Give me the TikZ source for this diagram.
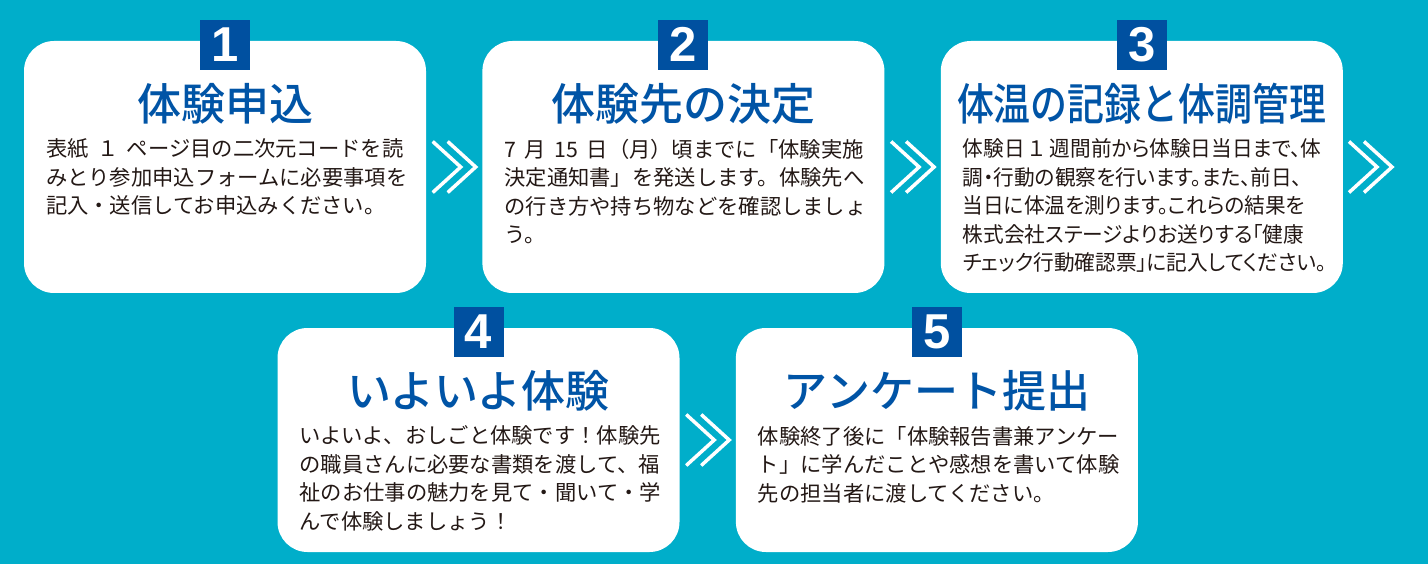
\documentclass[tikz,border=0pt]{standalone}
\usepackage{fontspec}
\setmainfont{Noto Sans CJK JP}
\newfontfamily\jpnarrow[FakeStretch=0.97,RawFeature=+palt]{Noto Sans CJK JP}
\newfontfamily\jptitle{Noto Sans CJK JP Medium}
\newfontfamily\jptitlenarrow[FakeStretch=0.84]{Noto Sans CJK JP Medium}
\newfontfamily\numfont{Liberation Sans}
\usepackage{tikz}
\usetikzlibrary{positioning,calc}
\definecolor{bgteal}{RGB}{0,174,202}
\definecolor{stepblue}{RGB}{0,80,160}
\definecolor{titleblue}{RGB}{0,84,166}
\definecolor{bodyink}{RGB}{35,24,21}

\begin{document}
\begin{tikzpicture}[x=1pt, y=-1pt, node distance=56pt,
  stepbox/.style={fill=white,rounded corners=30pt,minimum width=402pt,minimum height=252pt,inner sep=0pt},
  lowbox/.style={stepbox,minimum height=224pt},
  badge/.style={fill=stepblue,text=white,minimum size=50pt,inner sep=0pt,font=\numfont\bfseries\fontsize{49}{49}\selectfont},
  steptitle/.style={text=titleblue,inner sep=0pt,font=\jptitle\fontsize{44}{44}\selectfont},
  stepbody/.style={text=bodyink,inner sep=0pt,anchor=north west,align=left,font=\fontsize{21.3}{28.5}\selectfont},
  chevline/.style={draw=white,line width=3.5pt},
  pics/chev/.style={code={
    \draw[chevline] (-21.5,-25.5) -- (6.5,0) -- (-21.5,25.5);
    \draw[chevline] (-6.5,-25.5) -- (21.5,0) -- (-6.5,25.5);}}]
\fill[bgteal] (0,0) rectangle (1428,564);
% boxes
\node[stepbox] (s1) at (225,167) {};
\node[stepbox,right=of s1] (s2) {};
\node[stepbox,right=of s2] (s3) {};
\node[lowbox] (s4) at (478.5,440) {};
\node[lowbox,right=of s4] (s5) {};
% number badges
\node[badge] (b1) at ($(s1.north)+(0,4)$) {1};
\node[badge] (b2) at ($(s2.north)+(0,4)$) {2};
\node[badge] (b3) at ($(s3.north)+(0,4)$) {3};
\node[badge] (b4) at ($(s4.north)+(0,4)$) {4};
\node[badge] (b5) at ($(s5.north)+(0,4)$) {5};
% titles
\node[steptitle] (t1) at ($(s1.north)+(0,63)$) {体験申込};
\node[steptitle] (t2) at ($(s2.north)+(0,63)$) {体験先の決定};
\node[steptitle,font=\jptitlenarrow\fontsize{44}{44}\selectfont] (t3) at ($(s3.north)+(0,63)$) {体温の記録と体調管理};
\node[steptitle] (t4) at ($(s4.north)+(0,63)$) {いよいよ体験};
\node[steptitle] (t5) at ($(s5.north)+(0,63)$) {アンケート提出};
% texts
\node[stepbody] (d1) at ($(s1.north west)+(22,98)$) {表紙\hspace{0.4em}１\hspace{0.4em}ページ目の二次元コードを読\\みとり参加申込フォームに必要事項を\\記入・送信してお申込みください。};
\node[stepbody] (d2) at ($(s2.north west)+(22,98)$) {7\hspace{0.4em}月\hspace{0.4em}15\hspace{0.4em}日（月）頃までに「体験実施\\決定通知書」を発送します。体験先へ\\の行き方や持ち物などを確認しましょ\\う。};
\node[stepbody,font=\jpnarrow\fontsize{21.3}{28.5}\selectfont] (d3) at ($(s3.north west)+(22,98)$) {体験日 １ 週間前から体験日当日まで、体\\調・行動の観察を行います。また、前日、\\当日に体温を測ります。これらの結果を\\株式会社ステージよりお送りする「健康\\チェック行動確認票」に記入してください。};
\node[stepbody] (d4) at ($(s4.north west)+(22,98)$) {いよいよ、おしごと体験です！体験先\\の職員さんに必要な書類を渡して、福\\祉のお仕事の魅力を見て・聞いて・学\\んで体験しましょう！};
\node[stepbody] (d5) at ($(s5.north west)+(22,98)$) {体験終了後に「体験報告書兼アンケー\\ト」に学んだことや感想を書いて体験\\先の担当者に渡してください。};
% chevrons
\coordinate (c12) at ($(s1.east)!0.5!(s2.west)$);
\coordinate (c23) at ($(s2.east)!0.5!(s3.west)$);
\coordinate (c3) at ($(s3.east)+(27.5,0)$);
\coordinate (c45) at ($(s4.east)!0.5!(s5.west)$);
\pic at (c12) {chev};
\pic at (c23) {chev};
\pic at (c3) {chev};
\pic at (c45) {chev};
\end{tikzpicture}
\end{document}
